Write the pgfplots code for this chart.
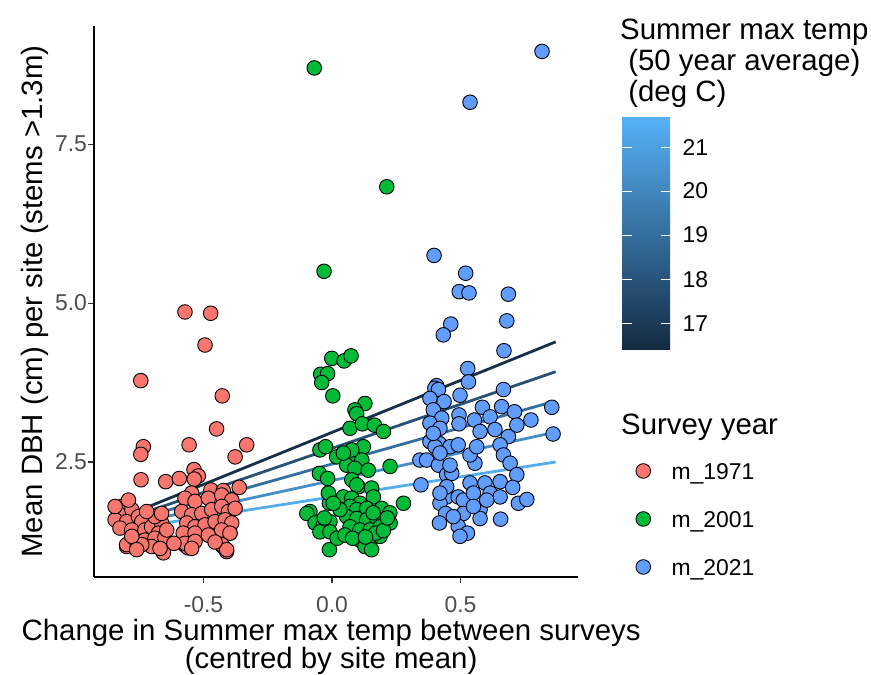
\documentclass[border=0pt]{standalone}
\usepackage{fontspec}
\setmainfont{Liberation Sans}
\usepackage{pgfplots}
\usepackage{pgfplotstable}
\pgfplotsset{compat=1.18}

\definecolor{c71}{HTML}{F8766D}
\definecolor{c01}{HTML}{00BA38}
\definecolor{c21}{HTML}{619CFF}
\definecolor{glo}{HTML}{132B43}
\definecolor{ghi}{HTML}{56B1F7}
\colorlet{l1}{ghi!4!glo}
\colorlet{l2}{ghi!29!glo}
\colorlet{l3}{ghi!51!glo}
\colorlet{l4}{ghi!74!glo}
\colorlet{l5}{ghi!97!glo}

% survey 1971
\pgfplotstableread{
x y
-0.572 4.86
-0.472 4.84
-0.494 4.34
-0.744 3.78
-0.427 3.54
-0.449 3.02
-0.734 2.74
-0.744 2.62
-0.556 2.77
-0.332 2.77
-0.377 2.58
-0.743 2.22
-0.647 2.19
-0.594 2.24
-0.537 2.38
-0.520 2.28
-0.536 2.23
-0.471 2.06
-0.423 2.05
-0.361 2.10
-0.546 2.01
-0.799 1.17
-0.410 1.09
-0.425 1.17
-0.572 1.19
-0.560 1.15
-0.673 1.17
-0.656 1.07
-0.682 1.33
-0.397 1.38
-0.526 1.38
-0.475 1.34
-0.812 1.81
-0.831 1.69
-0.779 1.75
-0.844 1.59
-0.799 1.56
-0.753 1.64
-0.740 1.56
-0.825 1.46
-0.779 1.43
-0.728 1.43
-0.702 1.48
-0.663 1.54
-0.675 1.38
-0.799 1.20
-0.760 1.25
-0.728 1.27
-0.689 1.30
-0.650 1.31
-0.702 1.17
-0.669 1.14
-0.740 1.20
-0.779 1.33
-0.643 1.43
-0.689 1.64
-0.721 1.72
-0.663 1.69
-0.792 1.90
-0.844 1.80
-0.572 1.93
-0.533 1.88
-0.481 1.93
-0.429 1.98
-0.390 1.90
-0.585 1.72
-0.546 1.67
-0.507 1.69
-0.468 1.75
-0.429 1.80
-0.403 1.72
-0.377 1.77
-0.565 1.54
-0.533 1.48
-0.494 1.51
-0.455 1.56
-0.416 1.59
-0.390 1.54
-0.579 1.38
-0.533 1.38
-0.481 1.35
-0.429 1.43
-0.397 1.38
-0.572 1.22
-0.533 1.25
-0.546 1.14
-0.429 1.20
-0.410 1.12
-0.760 1.12
-0.615 1.22
-0.455 1.24
}\tabA

% survey 2001
\pgfplotstableread{
x y
-0.069 8.70
0.213 6.83
-0.031 5.50
-0.001 4.13
0.047 4.09
0.074 4.17
-0.044 3.88
-0.017 3.89
-0.040 3.75
0.003 3.54
0.128 3.42
0.089 3.32
0.096 3.26
0.070 3.03
0.118 3.10
0.165 3.08
0.200 2.98
-0.047 2.69
-0.025 2.74
0.122 2.74
0.226 2.43
-0.049 2.32
-0.017 2.24
0.102 2.11
0.154 2.09
0.278 1.85
-0.086 1.72
-0.098 1.69
-0.010 1.85
0.040 1.84
-0.010 1.12
0.018 2.58
0.064 2.56
0.116 2.53
0.057 2.45
0.089 2.40
0.141 2.37
0.077 2.22
0.096 2.14
-0.014 2.01
0.044 1.95
0.077 1.93
0.109 1.85
0.161 1.95
0.070 1.80
0.096 1.75
0.135 1.77
0.193 1.77
0.225 1.70
0.057 1.64
0.096 1.61
0.135 1.59
0.174 1.61
0.213 1.54
-0.066 1.54
-0.034 1.51
-0.008 1.56
-0.047 1.40
-0.008 1.40
0.070 1.48
0.109 1.43
0.148 1.43
0.187 1.48
0.226 1.54
0.109 1.27
0.148 1.25
0.187 1.33
0.128 1.17
0.154 1.12
0.031 1.75
0.005 1.85
0.077 2.69
0.044 2.64
0.020 1.30
0.050 1.35
0.170 1.38
0.200 1.42
0.080 1.30
0.130 1.32
0.215 1.62
-0.030 1.62
0.160 1.70
}\tabB

% survey 2021
\pgfplotstableread{
x y
0.817 8.96
0.537 8.16
0.397 5.75
0.520 5.47
0.495 5.18
0.533 5.16
0.686 5.14
0.680 4.72
0.462 4.67
0.433 4.50
0.669 4.25
0.528 3.97
0.407 3.70
0.400 3.66
0.414 3.64
0.531 3.76
0.498 3.55
0.381 3.50
0.436 3.45
0.667 3.64
0.585 3.36
0.660 3.37
0.710 3.29
0.774 3.16
0.855 3.36
0.860 2.94
0.394 3.32
0.427 3.19
0.494 3.24
0.494 3.10
0.554 3.16
0.615 3.21
0.634 3.01
0.719 3.08
0.576 2.98
0.686 2.90
0.381 3.11
0.420 3.03
0.418 2.79
0.459 2.74
0.491 2.77
0.381 2.82
0.401 2.74
0.654 2.77
0.667 2.61
0.342 2.53
0.368 2.53
0.414 2.45
0.556 2.48
0.693 2.48
0.719 2.30
0.446 2.30
0.466 2.32
0.537 2.17
0.595 2.17
0.654 2.19
0.703 2.10
0.346 2.14
0.446 1.95
0.491 1.95
0.511 1.90
0.615 2.01
0.654 1.95
0.725 1.85
0.758 1.91
0.420 1.85
0.442 1.69
0.511 1.69
0.576 1.75
0.576 1.61
0.418 1.54
0.491 1.49
0.527 1.38
0.498 1.33
0.656 1.60
0.537 2.61
0.459 2.45
0.550 2.01
0.446 2.11
0.394 2.95
0.420 2.64
0.563 2.74
0.472 1.64
0.550 1.80
0.602 1.90
0.420 2.01
}\tabC

\begin{document}
\begin{tikzpicture}
\useasboundingbox (0,0) rectangle (871bp,675bp);
\begin{axis}[
    at={(94bp,98bp)}, anchor=south west,
    scale only axis, width=484bp, height=551bp,
    xmin=-0.926, xmax=0.957, ymin=0.69, ymax=9.36,
    axis x line*=bottom, axis y line*=left,
    axis line style={line width=1.6bp, black, -},
    xtick={-0.5,0,0.5}, xticklabels={-0.5,0.0,0.5},
    ytick={2.5,5,7.5}, yticklabels={2.5,5.0,7.5},
    tick align=outside, major tick length=5.5bp,
    tick style={line width=1.1bp, color=black!80},
    ticklabel style={font=\fontsize{23}{23}\selectfont, text=black!70},
    xticklabel style={yshift=-10bp},
    yticklabel style={xshift=2bp},
    xlabel={Change in Summer max temp between surveys\\(centred by site mean)},
    xlabel style={align=center, font=\fontsize{29.5}{28}\selectfont,
        at={(axis description cs:0.49,-0.127)}, anchor=center},
    ylabel={Mean DBH (cm) per site (stems >1.3m)},
    ylabel style={font=\fontsize{29.5}{29}\selectfont,
        at={(axis description cs:-0.1074,0.5)}, anchor=base},
    legend style={at={(axis description cs:1.1194,0.1053)}, anchor=west,
        draw=none, fill=none, inner sep=0pt, row sep=0pt, column sep=21bp,
        font=\fontsize{23}{23}\selectfont,
        nodes={inner sep=0pt, anchor=west, text height=32.2bp, text depth=15.8bp}},
    legend cell align=left,
]
\addplot[only marks, mark=*, mark size=7.3bp,
    mark options={fill=c71, draw=black, line width=0.9bp}] table {\tabA};
\addlegendentry{m\_1971}
\addplot[only marks, mark=*, mark size=7.3bp,
    mark options={fill=c01, draw=black, line width=0.9bp}] table {\tabB};
\addlegendentry{m\_2001}
\addplot[only marks, mark=*, mark size=7.3bp,
    mark options={fill=c21, draw=black, line width=0.9bp}] table {\tabC};
\addlegendentry{m\_2021}

% fitted lines at five levels of long-term summer max temp
\addplot[forget plot, l1, line width=2.8bp] coordinates {(-0.84,1.59) (0.87,4.39)};
\addplot[forget plot, l2, line width=2.8bp] coordinates {(-0.84,1.55) (0.87,3.92)};
\addplot[forget plot, l3, line width=2.8bp] coordinates {(-0.84,1.51) (0.87,3.46)};
\addplot[forget plot, l4, line width=2.8bp] coordinates {(-0.84,1.47) (0.87,2.97)};
\addplot[forget plot, l5, line width=2.8bp] coordinates {(-0.84,1.42) (0.87,2.50)};
\end{axis}

% colour bar for long-term temperature
\begin{axis}[
    at={(622bp,325bp)}, anchor=south west,
    scale only axis, width=48bp, height=232bp,
    xmin=0, xmax=1, ymin=16.39, ymax=21.66,
    axis line style={draw=none}, axis on top,
    xtick=\empty, ytick={17,18,19,20,21},
    ytick pos=both, yticklabel pos=right,
    tick align=inside, major tick length=9.5bp,
    tick style={white, line width=1bp},
    /pgf/number format/assume math mode=true,
    yticklabel style={font=\fontsize{23}{23}\selectfont, text=black, xshift=9bp},
]
\fill[bottom color=glo, top color=ghi] (axis cs:0,16.39) rectangle (axis cs:1,21.66);
\end{axis}

\begin{scope}[every node/.style={anchor=base west, inner sep=0pt, font=\fontsize{29.5}{30}\selectfont}]
\node at (620bp,635bp) {Summer max temp};
\node at (620bp,604bp) {\ (50 year average)};
\node at (620bp,573bp) {\ (deg C)};
\node at (621bp,240bp) {Survey year};
\end{scope}
\end{tikzpicture}
\end{document}
